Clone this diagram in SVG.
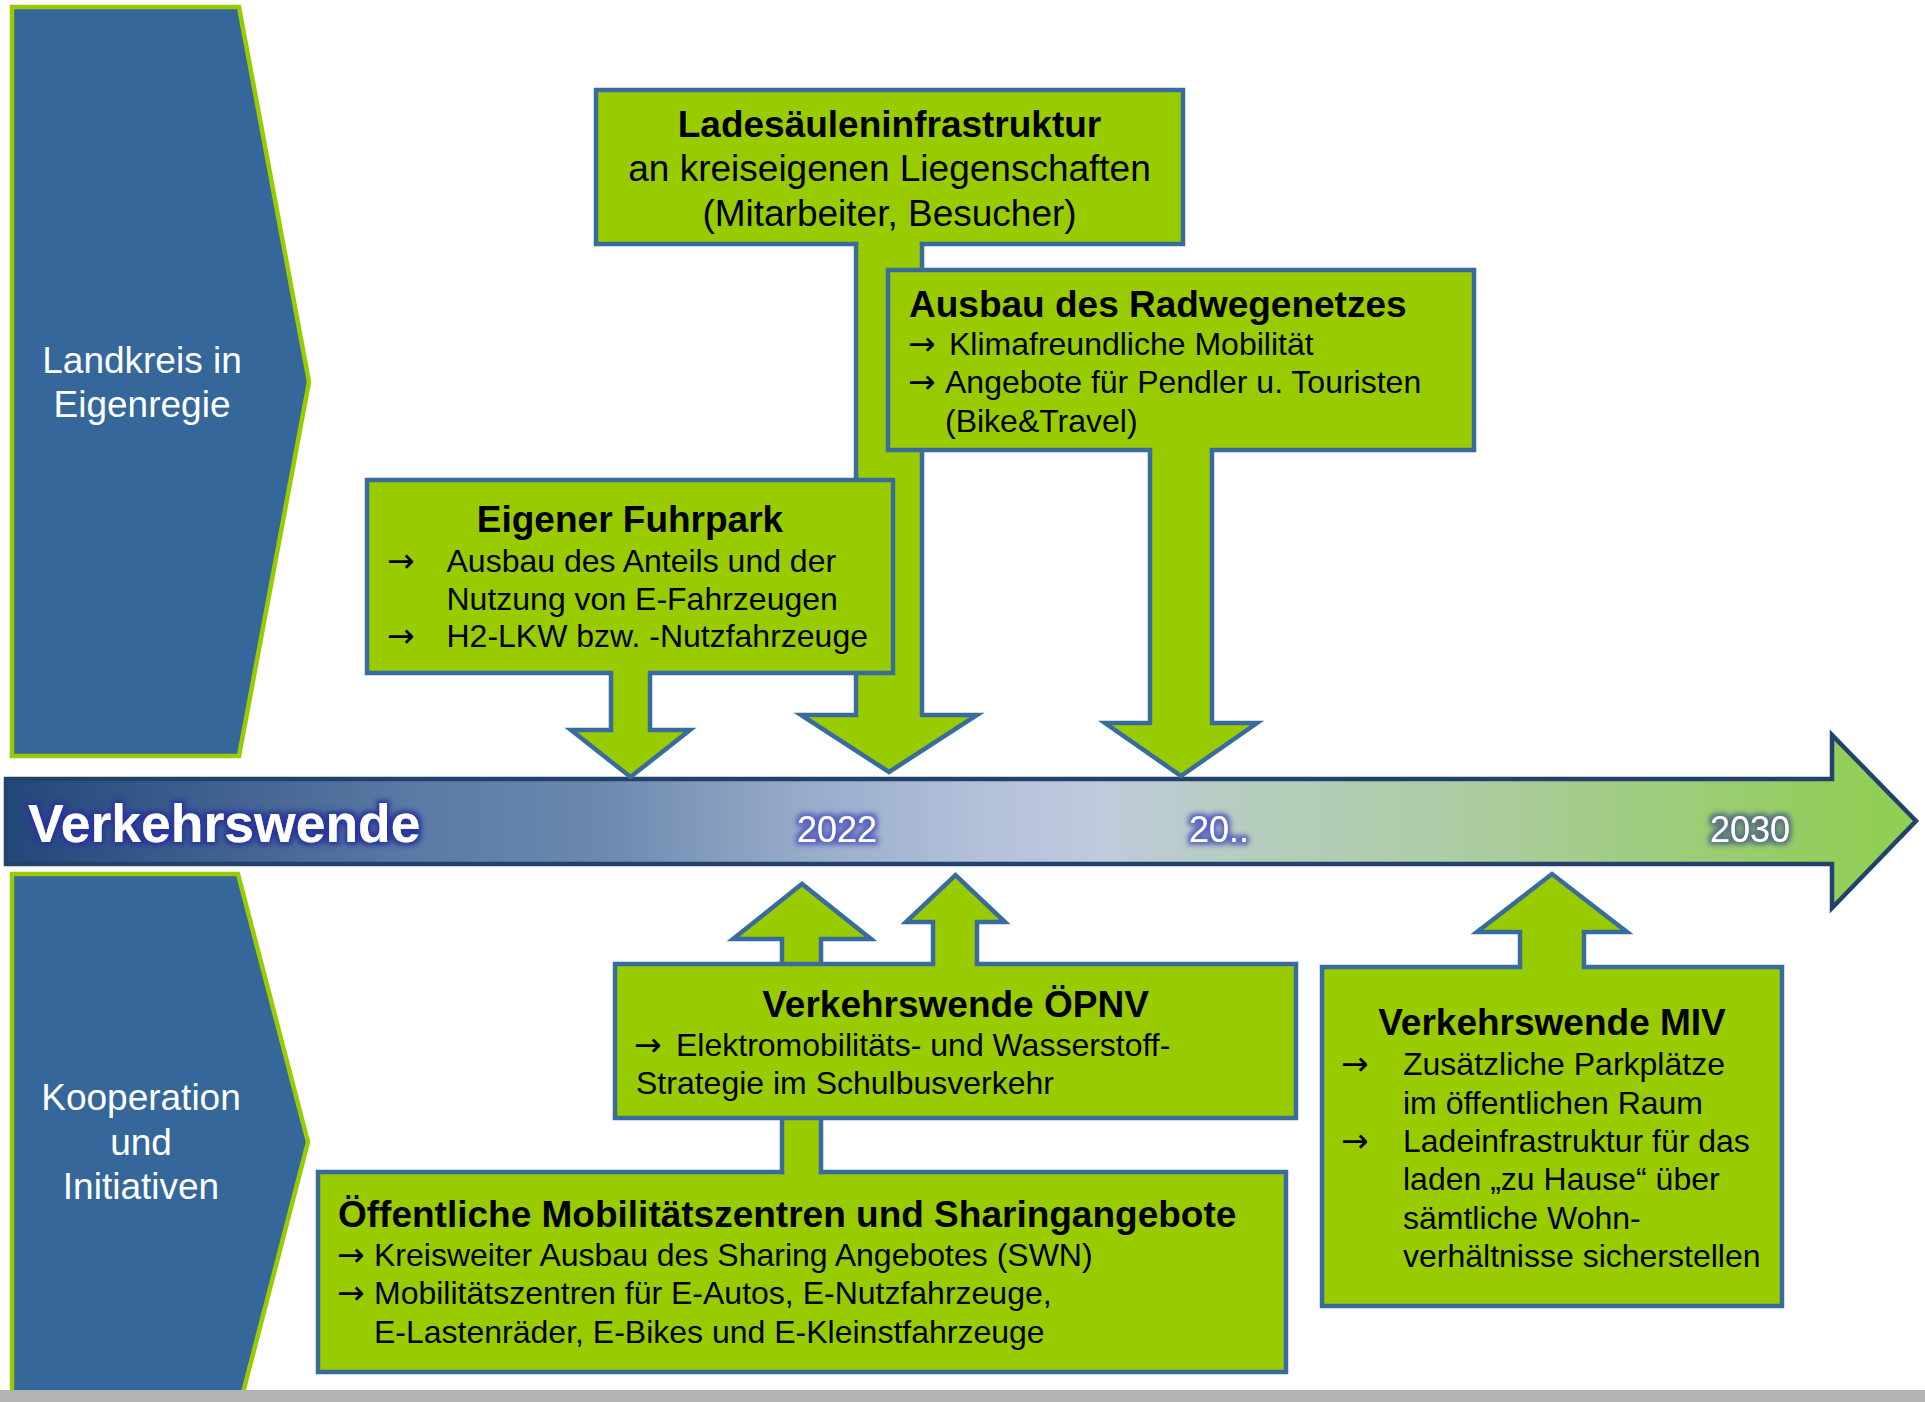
<svg xmlns="http://www.w3.org/2000/svg" width="1925" height="1402" viewBox="0 0 1925 1402">
<defs>
<linearGradient id="barGrad" gradientUnits="userSpaceOnUse" x1="6" y1="0" x2="1916" y2="0">
<stop offset="0" stop-color="#22477a"/>
<stop offset="0.21" stop-color="#5a79a4"/>
<stop offset="0.31" stop-color="#6c88ae"/>
<stop offset="0.42" stop-color="#98acca"/>
<stop offset="0.5" stop-color="#b0bed8"/>
<stop offset="0.57" stop-color="#bfcadf"/>
<stop offset="0.64" stop-color="#b6cdc0"/>
<stop offset="0.75" stop-color="#aecca6"/>
<stop offset="0.86" stop-color="#a0cc80"/>
<stop offset="0.95" stop-color="#94cd5e"/>
<stop offset="1" stop-color="#90cf52"/>
</linearGradient>
<filter id="glowNavy" x="-10%" y="-40%" width="120%" height="180%">
<feMorphology in="SourceAlpha" operator="dilate" radius="2.5" result="d"/>
<feGaussianBlur in="d" stdDeviation="2.5" result="b"/>
<feFlood flood-color="#28369a"/>
<feComposite in2="b" operator="in" result="g"/>
<feMerge><feMergeNode in="g"/><feMergeNode in="SourceGraphic"/></feMerge>
</filter>
<filter id="glowViolet" x="-20%" y="-40%" width="140%" height="180%">
<feMorphology in="SourceAlpha" operator="dilate" radius="2.5" result="d"/>
<feGaussianBlur in="d" stdDeviation="2.5" result="b"/>
<feFlood flood-color="#5a62bf"/>
<feComposite in2="b" operator="in" result="g"/>
<feMerge><feMergeNode in="g"/><feMergeNode in="SourceGraphic"/></feMerge>
</filter>
<filter id="glowSlate" x="-20%" y="-40%" width="140%" height="180%">
<feMorphology in="SourceAlpha" operator="dilate" radius="2.5" result="d"/>
<feGaussianBlur in="d" stdDeviation="2.5" result="b"/>
<feFlood flood-color="#587380"/>
<feComposite in2="b" operator="in" result="g"/>
<feMerge><feMergeNode in="g"/><feMergeNode in="SourceGraphic"/></feMerge>
</filter>
</defs>
<style>
.box{fill:#99cc00;stroke:#3a6b9d;stroke-width:4.5;stroke-linecap:square;stroke-linejoin:miter}
.arr{fill:#99cc00;stroke:#3a6b9d;stroke-width:4.5;stroke-linecap:square;stroke-linejoin:miter}
.chev{fill:#35679a;stroke:#99cc00;stroke-width:4.5;stroke-linejoin:miter}
text{font-family:"Liberation Sans",Arial,"DejaVu Sans",sans-serif}
.t{font-size:37px;fill:#000}
.b{font-weight:bold}
.s{font-size:32px;fill:#000}
.w{fill:#fff;font-size:37px}
.yr{fill:#fff;font-size:36px}
.mid{text-anchor:middle}
.ar{font-family:"DejaVu Sans",sans-serif;font-size:33px}
</style>
<rect width="1925" height="1402" fill="#fff"/>

<g id="chevron-eigenregie">
<polygon class="chev" points="12,7 239,7 309,382 239,756 12,756"/>
<text class="w mid" x="142" y="373">Landkreis in</text>
<text class="w mid" x="142" y="417">Eigenregie</text>
</g>

<g id="chevron-kooperation">
<polygon class="chev" points="12,874 238,874 308,1142 238,1412 12,1412"/>
<text class="w mid" x="141" y="1110">Kooperation</text>
<text class="w mid" x="141" y="1155">und</text>
<text class="w mid" x="141" y="1199">Initiativen</text>
</g>

<g id="timeline">
<path d="M6,779 H1832 V735 L1916,821 L1832,908 V864 H6 Z" fill="url(#barGrad)" stroke="#22426b" stroke-width="4.5" stroke-linejoin="miter"/>
<text class="b" x="28" y="842" font-size="53.5" fill="#fff" filter="url(#glowNavy)">Verkehrswende</text>
<text class="yr mid" x="837" y="842" filter="url(#glowViolet)">2022</text>
<text class="yr" x="1189" y="842" filter="url(#glowViolet)">20..</text>
<text class="yr mid" x="1750" y="842" filter="url(#glowSlate)">2030</text>
</g>

<g id="node-ladesaeulen">
<path class="box" d="M922,244 H1183 V90 H596 V244 H856"/>
<text class="t b mid" x="889.5" y="137">Ladesäuleninfrastruktur</text>
<text class="t mid" x="889.5" y="181">an kreiseigenen Liegenschaften</text>
<text class="t mid" x="889.5" y="226">(Mitarbeiter, Besucher)</text>
</g>

<g id="node-oeffentliche">
<path class="box" d="M821,1172 H1286 V1372 H318 V1172 H782"/>
<text class="t b" x="338" y="1227">Öffentliche Mobilitätszentren und Sharingangebote</text>
<text class="s" y="1266"><tspan class="ar" x="337">→</tspan><tspan x="374">Kreisweiter Ausbau des Sharing Angebotes (SWN)</tspan></text>
<text class="s" y="1304"><tspan class="ar" x="337">→</tspan><tspan x="374">Mobilitätszentren für E-Autos, E-Nutzfahrzeuge,</tspan></text>
<text class="s" x="374" y="1343">E-Lastenräder, E-Bikes und E-Kleinstfahrzeuge</text>
</g>

<g id="connectors">
<path class="arr" d="M856,244 V715 H801 L889,772 L977,715 H922 V244"/>
<path class="arr" d="M611,673 V730 H571 L630.5,777 L690,730 H650 V673"/>
<path class="arr" d="M1150,450 V723 H1105 L1181,776 L1257,723 H1212 V450"/>
<path class="arr" d="M782,1172 V939 H733 L802,884 L871,939 H821 V1172"/>
<path class="arr" d="M933,964 V922 H906 L955.5,875 L1005,922 H977 V964"/>
<path class="arr" d="M1520,967 V932 H1477 L1552,874 L1627,932 H1584 V967"/>
</g>

<g id="node-fuhrpark">
<path class="box" d="M650,673 H893 V480 H367 V673 H611"/>
<text class="t b mid" x="630" y="532">Eigener Fuhrpark</text>
<text class="s" y="572"><tspan class="ar" x="387">→</tspan><tspan x="446.5">Ausbau des Anteils und der</tspan></text>
<text class="s" x="446.5" y="610">Nutzung von E-Fahrzeugen</text>
<text class="s" y="647"><tspan class="ar" x="387">→</tspan><tspan x="446.5">H2-LKW bzw. -Nutzfahrzeuge</tspan></text>
</g>

<g id="node-radwegenetz">
<path class="box" d="M1212,450 H1474 V270 H888 V450 H1150"/>
<text class="t b" x="909" y="317">Ausbau des Radwegenetzes</text>
<text class="s" y="355"><tspan class="ar" x="908">→</tspan><tspan x="949">Klimafreundliche Mobilität</tspan></text>
<text class="s" y="393"><tspan class="ar" x="908">→</tspan><tspan x="945">Angebote für Pendler u. Touristen</tspan></text>
<text class="s" x="945" y="432">(Bike&amp;Travel)</text>
</g>

<g id="node-oepnv">
<path class="box" d="M977,964 H1296 V1118 H615 V964 H933"/>
<text class="t b mid" x="955.5" y="1017">Verkehrswende ÖPNV</text>
<text class="s" y="1056"><tspan class="ar" x="634">→</tspan><tspan x="676">Elektromobilitäts- und Wasserstoff-</tspan></text>
<text class="s" x="636" y="1094">Strategie im Schulbusverkehr</text>
</g>

<g id="node-miv">
<path class="box" d="M1584,967 H1782 V1306 H1322 V967 H1520"/>
<text class="t b mid" x="1552" y="1035">Verkehrswende MIV</text>
<text class="s" y="1075"><tspan class="ar" x="1341">→</tspan><tspan x="1403">Zusätzliche Parkplätze</tspan></text>
<text class="s" x="1403" y="1114">im öffentlichen Raum</text>
<text class="s" y="1152"><tspan class="ar" x="1341">→</tspan><tspan x="1403">Ladeinfrastruktur für das</tspan></text>
<text class="s" x="1403" y="1190">laden „zu Hause“ über</text>
<text class="s" x="1403" y="1229">sämtliche Wohn-</text>
<text class="s" x="1403" y="1267">verhältnisse sicherstellen</text>
</g>

<rect id="footer-bar" x="0" y="1390" width="1925" height="12" fill="#b3b3b3"/>
</svg>
